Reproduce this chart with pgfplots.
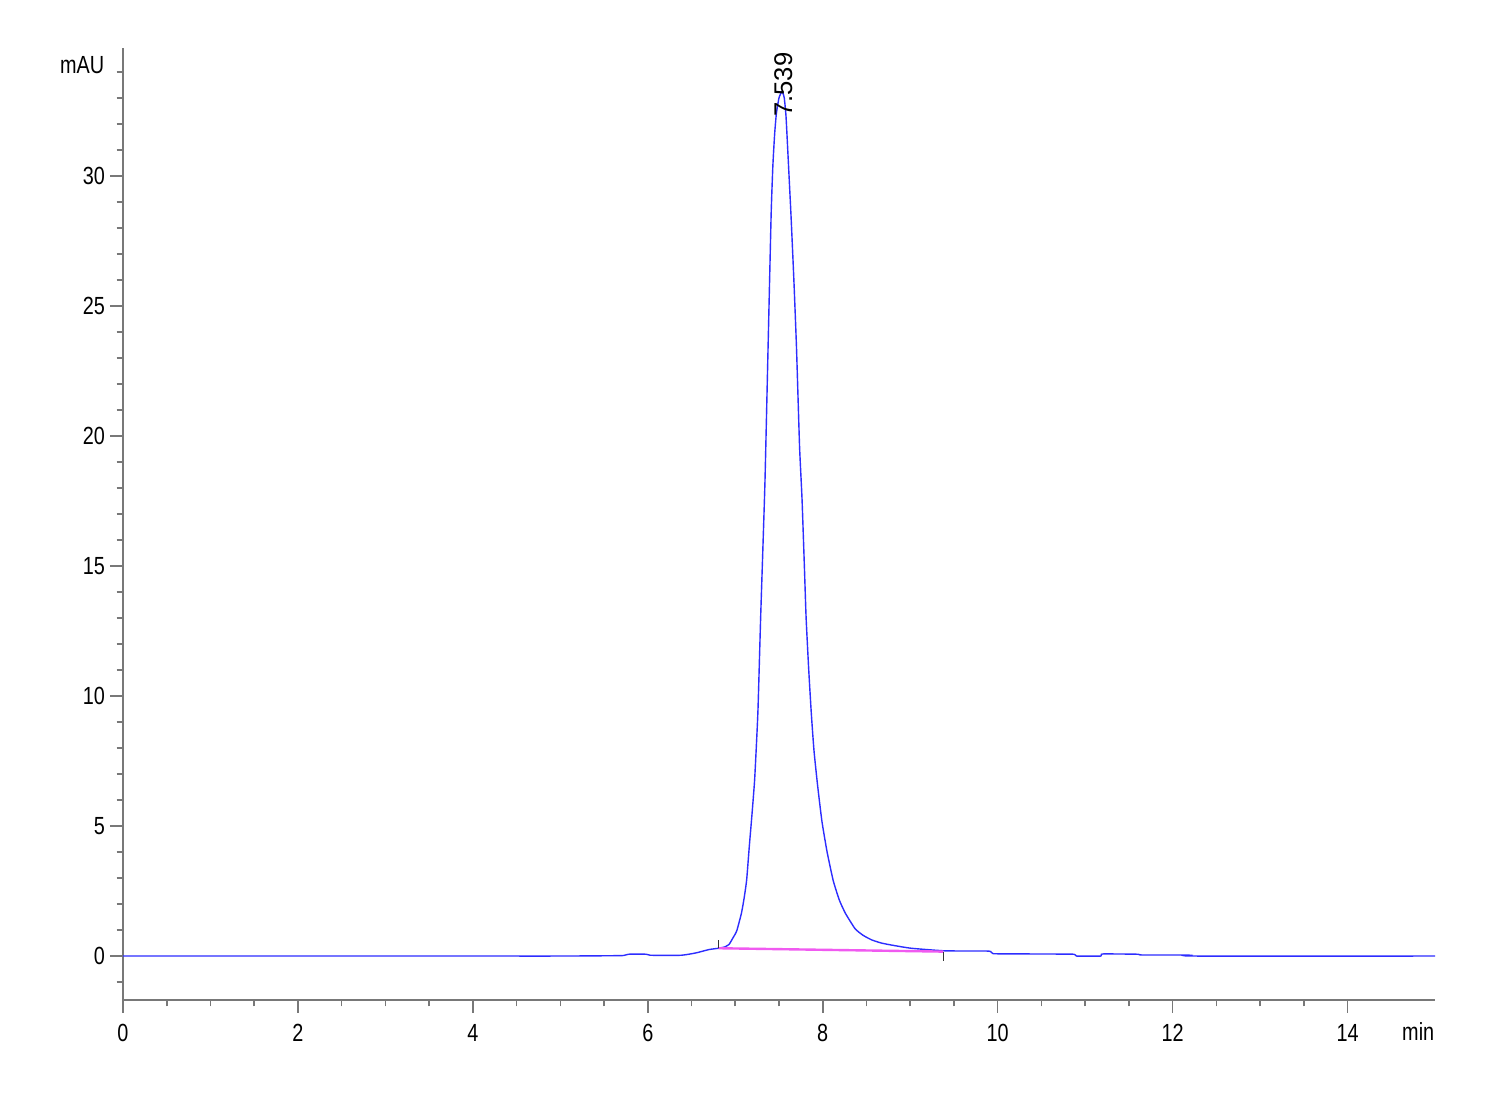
\documentclass[border=0pt]{standalone}
\usepackage{fontspec}
\setmainfont{Liberation Sans}[FakeStretch=0.8]
\newfontfamily\peakfont{Liberation Sans}
\usepackage{pgfplots}
\pgfplotsset{compat=1.18}
\definecolor{trace}{RGB}{45,45,255}
\definecolor{basel}{RGB}{240,90,240}
\definecolor{axgray}{RGB}{120,120,120}
\begin{document}
\begin{tikzpicture}
\path[use as bounding box, fill=white] (-30.75pt,-25pt) rectangle (344.25pt,250pt);
\begin{axis}[
  at={(0,0)}, anchor=south west,
  scale only axis, width=328pt, height=238pt,
  xmin=0, xmax=15, ymin=-1.69, ymax=34.92,
  axis x line=bottom, axis y line=left,
  axis line style={-, axgray, line width=0.7pt},
  tick align=outside,
  xtick={0,2,...,14}, minor x tick num=3,
  ytick={0,5,...,30}, minor ytick={-1,1,2,3,4,6,7,8,9,11,12,13,14,16,17,18,19,21,22,23,24,26,27,28,29,31,32,33,34},
  major tick length=3.2pt, minor tick length=1.6pt,
  tick style={axgray, line width=0.4pt},
  /pgf/number format/assume math mode=true,
  tick label style={font=\fontsize{6.2}{7}\selectfont, black},
  yticklabel style={xshift=2.2pt},
  xticklabel style={yshift=0.7pt},
  clip=false,
]
\addplot[trace, line width=0.35pt, smooth, tension=0.3] coordinates {
(0,0) (2,0) (4,0) (5,0) (5.5,0.01) (5.72,0.02) (5.78,0.07) (5.98,0.07)
(6.03,0.03) (6.38,0.03) (6.55,0.12) (6.70,0.25) (6.81,0.3) (6.88,0.35)
(6.93,0.45) (6.96,0.62) (7.00,0.85) (7.02,1.0) (7.07,1.64) (7.10,2.2) (7.13,2.92)
(7.16,4.2) (7.19,5.4) (7.22,6.7) (7.24,8.0) (7.26,9.5) (7.29,13.0) (7.315,15.6) (7.34,18.3) (7.375,23.4)
(7.41,28.5) (7.43,30.4) (7.45,31.6) (7.47,32.4) (7.50,33.0) (7.535,33.25) (7.56,33.0) (7.58,32.3) (7.60,31.0)
(7.637,28.5) (7.67,26.0) (7.70,23.4) (7.735,19.6) (7.763,17.6) (7.79,15.0) (7.81,13.0) (7.84,11.0) (7.87,9.3)
(7.90,7.9) (7.94,6.6) (7.99,5.2) (8.05,4.0) (8.12,2.9) (8.19,2.15) (8.26,1.64) (8.37,1.05) (8.46,0.8) (8.56,0.62)
(8.67,0.5) (8.79,0.42) (9.01,0.3) (9.4,0.2) (9.9,0.19) (9.95,0.09) (10.4,0.08)
(10.87,0.07) (10.9,0.0) (11.18,0.0) (11.2,0.08) (11.6,0.07) (11.65,0.04)
(12.17,0.04) (12.25,0) (15,0)
};
\addplot[basel, line width=0.6pt] coordinates {(6.81,0.3) (9.38,0.17)};
\addplot[black!80, line width=0.4pt] coordinates {(6.81,0.3) (6.81,0.62)};
\addplot[black!80, line width=0.4pt] coordinates {(9.38,0.17) (9.38,-0.2)};
\node[rotate=90, anchor=west, inner sep=0pt, font=\peakfont\fontsize{6.4}{7}\selectfont] at (axis cs:7.55,32.4) [xshift=-1pt] {7.539};
\node[anchor=east, inner sep=0pt, font=\fontsize{6.2}{7}\selectfont] at (axis description cs:0,0.982) [xshift=-4.5pt] {mAU};
\node[anchor=base east, inner sep=0pt, font=\fontsize{6.2}{7}\selectfont] at (axis description cs:1,0) [yshift=-10.25pt] {min};
\end{axis}
\end{tikzpicture}
\end{document}
